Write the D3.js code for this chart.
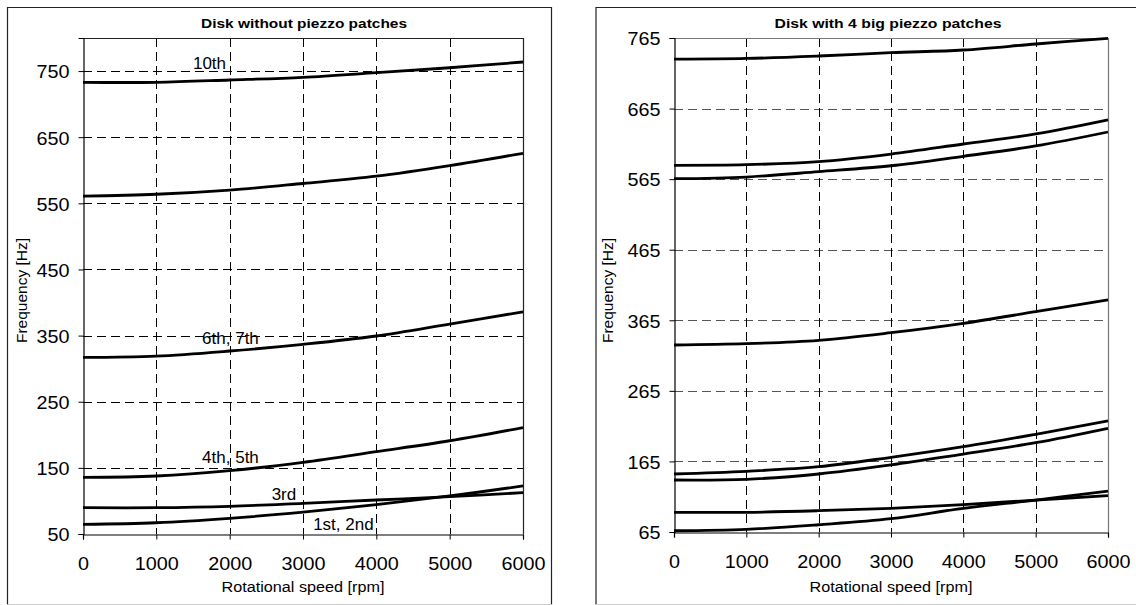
<!DOCTYPE html>
<html>
<head>
<meta charset="utf-8">
<script src="https://cdn.jsdelivr.net/npm/d3@7"></script>
<style>
  html, body { margin: 0; padding: 0; background: #fff; }
  svg { display: block; }
  text { font-family: "Liberation Sans", Arial, sans-serif; fill: #000; }
</style>
</head>
<body>
<svg id="chart" width="1136" height="605"></svg>
<script>
// ---------- DATA ----------
const rpm = [0, 1000, 2000, 3000, 4000, 5000, 6000];
const xTicks = [0, 1000, 2000, 3000, 4000, 5000, 6000];

// Disk without piezzo patches
const leftTitle = "Disk without piezzo patches";
const leftYTicks = [50, 150, 250, 350, 450, 550, 650, 750];
const left_1st2nd = [64.6, 67, 73.7, 83, 94.3, 107.5, 122.6];
const left_3rd    = [89.8, 89.8, 91.9, 96.4, 101.4, 106.4, 112.5];
const left_4th5th = [135.7, 137.7, 145.7, 158.4, 174.5, 191, 211];
const left_6th7th = [317, 319, 326.7, 336.8, 349.4, 367.5, 386];
const left_8th9th = [561, 563.7, 570, 580, 591, 607, 625.7];
const left_10th   = [733, 733, 736.5, 740.6, 747.6, 755, 763.7];
const leftLabels     = ["10th", "6th, 7th", "4th, 5th", "3rd", "1st, 2nd"];
const leftLabelRpm   = [1725, 2011, 2011, 2740, 3551];
const leftLabelHz    = [753, 338, 157.8, 101.9, 56];

// Disk with 4 big piezzo patches
const rightTitle = "Disk with 4 big piezzo patches";
const rightYTicks = [65, 165, 265, 365, 465, 565, 665, 765];
const right_1st  = [66.8, 68.8, 75.3, 83.8, 98.6, 110.3, 123];
const right_3rd  = [92.9, 92.9, 95.2, 98.6, 103.7, 110.3, 116.4];
const right_4th  = [138.7, 139.7, 147.2, 160, 175.5, 191.5, 211.9];
const right_5th  = [147.2, 151, 157.5, 170.8, 185.9, 203.5, 222.3];
const right_6th  = [330, 331.8, 336.6, 347.4, 360.7, 377.2, 394];
const right_8th  = [565.6, 568, 575.6, 584, 597.4, 612, 631.8];
const right_9th  = [584.6, 585.5, 589.8, 600.6, 614.8, 629, 649];
const right_10th = [735, 736, 739.5, 744.2, 748, 756.5, 764.6];

const xTitle = "Rotational speed [rpm]";
const yTitle = "Frequency [Hz]";

// ---------- DRAW ----------
const svg = d3.select("#chart");

function panel(cfg) {
  const g = svg.append("g");
  // outer frame
  g.append("path")
    .attr("d", `M${cfg.fx0},604.5 V7.5 H${cfg.fx1} V604.5`)
    .attr("fill", "none").attr("stroke", "#222").attr("stroke-width", 1.2);
  g.append("line").attr("x1", cfg.fx0).attr("x2", cfg.fx1).attr("y1", 604.5).attr("y2", 604.5)
    .attr("stroke", "#ccc").attr("stroke-width", 1);

  const x = d3.scaleLinear().domain([0, 6000]).range([cfg.px0, cfg.px1]);
  const y = d3.scaleLinear().domain(cfg.yDomain).range([cfg.py1, cfg.py0]);

  // grid
  const grid = g.append("g");
  grid.selectAll("line.h").data(cfg.yTicks.filter(t => t > cfg.yDomain[0] && t < cfg.yDomain[1]))
    .join("line").attr("class", "h")
    .attr("x1", cfg.px0).attr("x2", cfg.px1)
    .attr("y1", d => Math.round(y(d)) + 0.5).attr("y2", d => Math.round(y(d)) + 0.5)
    .attr("stroke", cfg.hGridColor).attr("stroke-width", 1).attr("stroke-dasharray", "9,5");
  grid.selectAll("line.v").data(xTicks.filter(t => t > 0 && t < 6000))
    .join("line").attr("class", "v")
    .attr("x1", d => Math.round(x(d)) + 0.5).attr("x2", d => Math.round(x(d)) + 0.5)
    .attr("y1", cfg.py0).attr("y2", cfg.py1)
    .attr("stroke", "#000").attr("stroke-width", 1).attr("stroke-dasharray", "9,5");

  // plot frame top/right
  g.append("path")
    .attr("d", `M${cfg.px0},${cfg.py0 + 0.5} H${cfg.px1 + 0.5} V${cfg.py1}`)
    .attr("fill", "none").attr("stroke", cfg.frameColor).attr("stroke-width", 1.2);

  // axes
  const ya = d3.axisLeft(y).tickValues(cfg.yTicks).tickSize(5).tickPadding(9).tickFormat(d3.format("d"));
  const xa = d3.axisBottom(x).tickValues(xTicks).tickSize(5).tickPadding(17).tickFormat(d3.format("d"));
  const gy = g.append("g").attr("transform", `translate(${cfg.px0 + 0.5},0)`).call(ya);
  const gx = g.append("g").attr("transform", `translate(0,${cfg.py1 + 0.5})`).call(xa);
  [gy, gx].forEach(ax => {
    ax.select(".domain").attr("stroke", "#000").attr("stroke-width", 1.2);
    ax.selectAll(".tick line").attr("stroke", "#000").attr("stroke-width", 1);
    ax.selectAll(".tick text")
      .style("font-family", '"Liberation Sans", Arial, sans-serif')
      .attr("font-size", 19).attr("fill", "#000")
      .attr("textLength", d => String(d).length * 11)
      .attr("lengthAdjust", "spacingAndGlyphs");
  });
  gy.selectAll(".tick text").attr("dy", "0.36em");

  // series
  const line = d3.line().x((d, i) => x(rpm[i])).y(d => y(d)).curve(d3.curveCatmullRom.alpha(0.5));
  g.append("g").selectAll("path").data(cfg.series).join("path")
    .attr("d", d => line(d))
    .attr("fill", "none").attr("stroke", "#000").attr("stroke-width", 2.8)
    .attr("stroke-linejoin", "round").attr("stroke-linecap", "butt");

  // title
  g.append("text").attr("x", cfg.titleX).attr("y", 28).attr("text-anchor", "middle")
    .attr("font-size", 12.5).attr("font-weight", "bold")
    .attr("textLength", cfg.titleW).attr("lengthAdjust", "spacingAndGlyphs")
    .text(cfg.title);
  // x title
  g.append("text").attr("x", (cfg.px0 + cfg.px1) / 2).attr("y", 592).attr("text-anchor", "middle")
    .attr("font-size", 14).attr("textLength", 163).attr("lengthAdjust", "spacingAndGlyphs")
    .text(xTitle);
  // y title
  g.append("text").attr("transform", `translate(${cfg.yTitleX},290.5) rotate(-90)`)
    .attr("text-anchor", "middle").attr("font-size", 14)
    .attr("textLength", 105).attr("lengthAdjust", "spacingAndGlyphs")
    .text(yTitle);

  // curve labels
  if (cfg.labels) {
    g.append("g").selectAll("text").data(cfg.labels).join("text")
      .attr("x", (d, i) => x(cfg.labelRpm[i])).attr("y", (d, i) => y(cfg.labelHz[i]))
      .attr("text-anchor", "middle").attr("font-size", 17)
      .text(d => d);
  }
}

panel({
  fx0: 7.5, fx1: 551.5,
  px0: 83, px1: 523, py0: 38, py1: 534,
  yDomain: [50, 800], yTicks: leftYTicks,
  hGridColor: "#000", frameColor: "#222",
  series: [left_1st2nd, left_3rd, left_4th5th, left_6th7th, left_8th9th, left_10th],
  title: leftTitle, titleX: 304, titleW: 206, yTitleX: 27,
  labels: leftLabels, labelRpm: leftLabelRpm, labelHz: leftLabelHz
});

panel({
  fx0: 596, fx1: 1140,
  px0: 674, px1: 1108, py0: 38, py1: 532,
  yDomain: [65, 765], yTicks: rightYTicks,
  hGridColor: "#555", frameColor: "#777",
  series: [right_1st, right_3rd, right_4th, right_5th, right_6th, right_8th, right_9th, right_10th],
  title: rightTitle, titleX: 888, titleW: 227, yTitleX: 613
});
</script>
</body>
</html>
